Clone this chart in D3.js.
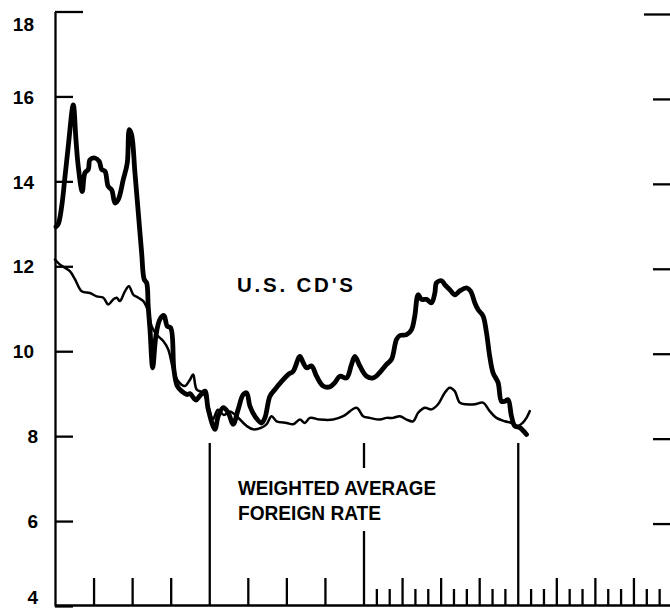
<!DOCTYPE html>
<html>
<head>
<meta charset="utf-8">
<script src="https://d3js.org/d3.v7.min.js"></script>
<style>
  body { margin: 0; background: #fff; }
  svg { display: block; }
</style>
</head>
<body>
<div id="chart"></div>
<script>
// months counted from the start of the first year on the time axis
var cdMonths = [0.08, 0.26, 0.52, 0.78, 1.03, 1.42, 1.63, 1.81, 2.12, 2.33, 2.59, 2.72, 3.11, 3.44, 3.63, 3.89,
  4.14, 4.41, 4.67, 4.92, 5.31, 5.62, 5.78, 5.96, 6.22, 6.48, 6.74, 6.94, 7.13, 7.25, 7.39, 7.60, 7.85,
  8.16, 8.48, 8.73, 9.00, 9.25, 9.51, 9.85, 10.29, 10.50, 10.96, 11.27, 11.66, 11.92, 12.44, 12.70,
  13.09, 13.48, 13.86, 14.25, 14.64, 14.91, 15.16, 15.55, 16.07, 16.33, 16.72, 17.11, 17.63, 18.14,
  18.53, 19.05, 19.31, 19.57, 19.96, 20.35, 20.86, 21.38, 21.77, 22.16, 22.68, 23.07, 23.33, 23.72,
  24.24, 24.75, 25.27, 25.79, 26.18, 26.57, 26.83, 27.35, 27.74, 27.99, 28.25, 28.51, 28.90, 29.29,
  29.55, 29.68, 30.07, 30.32, 30.71, 31.10, 31.49, 32.01, 32.32, 32.66, 32.91, 33.30, 33.57, 33.82,
  34.08, 34.47, 34.73, 34.99, 35.25, 35.51, 35.77, 36.16, 36.68];
var cdRates = [12.93, 13.0, 13.41, 14.12, 14.82, 15.80, 14.98, 14.35, 13.76, 14.20, 14.28, 14.51, 14.55, 14.47, 14.28, 14.24,
  13.88, 13.80, 13.49, 13.57, 14.04, 14.43, 15.22, 15.10, 14.20, 13.26, 12.32, 11.69, 11.61, 11.06, 10.51, 9.61, 10.36,
  10.75, 10.84, 10.59, 10.55, 9.57, 9.18, 9.06, 8.98, 9.0, 8.85, 8.95, 9.06, 8.63, 8.16, 8.47,
  8.67, 8.55, 8.28, 8.63, 8.98, 9.02, 8.71, 8.47, 8.31, 8.43, 8.94, 9.10, 9.29, 9.45,
  9.53, 9.88, 9.73, 9.61, 9.65, 9.41, 9.18, 9.16, 9.26, 9.41, 9.37, 9.69, 9.88, 9.65,
  9.41, 9.37, 9.50, 9.69, 9.81, 10.28, 10.37, 10.39, 10.51, 10.83, 11.33, 11.22, 11.22, 11.14,
  11.37, 11.61, 11.66, 11.57, 11.45, 11.33, 11.42, 11.49, 11.42, 11.14, 10.98, 10.83, 10.43, 9.88,
  9.49, 9.26, 8.82, 8.82, 8.86, 8.47, 8.24, 8.20, 8.04];

var foreignMonths = [0, 0.39, 1.17, 1.56, 2.08, 2.72, 3.24, 3.76, 4.14, 4.53, 4.80, 5.05, 5.44, 5.75, 6.09, 6.48,
  6.87, 7.25, 7.52, 7.91, 8.42, 8.81, 9.20, 9.59, 10.11, 10.50, 10.75, 11.02, 11.53, 11.92, 12.29, 12.67,
  13.14, 13.61, 14.13, 14.91, 15.42, 16.07, 16.46, 16.85, 17.24, 18.02, 18.53, 19.05, 19.44, 19.83, 20.61,
  21.64, 22.42, 23.46, 23.97, 24.49, 25.27, 25.79, 26.30, 26.83, 27.35, 27.86, 28.25, 28.77, 29.29, 29.80,
  30.32, 30.71, 31.10, 31.49, 32.01, 32.66, 33.30, 33.82, 34.34, 34.99, 35.51, 35.98, 36.37, 36.68, 36.94];
var foreignRates = [12.16, 12.04, 11.88, 11.69, 11.41, 11.37, 11.29, 11.26, 11.10, 11.22, 11.26, 11.18, 11.41, 11.53, 11.33, 11.26,
  11.18, 10.94, 10.59, 10.39, 10.24, 10.04, 9.57, 9.29, 9.18, 9.33, 9.45, 9.10, 9.02, 8.71, 8.40, 8.62,
  8.50, 8.58, 8.47, 8.24, 8.16, 8.20, 8.28, 8.47, 8.35, 8.31, 8.28, 8.39, 8.31, 8.43, 8.39,
  8.39, 8.47, 8.67, 8.47, 8.43, 8.39, 8.43, 8.43, 8.47, 8.39, 8.35, 8.55, 8.67, 8.63, 8.75,
  9.02, 9.14, 9.06, 8.79, 8.75, 8.75, 8.79, 8.59, 8.43, 8.35, 8.31, 8.24, 8.31, 8.43, 8.59];

var yTicks = [4, 6, 8, 10, 12, 14, 16, 18];
var yearStarts = [12, 24, 36];
var allMonths = d3.range(1, 48);

function drawChart() {
  var width = 670, height = 609;

  var svg = d3.select("#chart")
    .append("svg")
    .attr("width", width)
    .attr("height", height);

  // ---------------------------//
  //       AXIS  AND SCALE      //
  // ---------------------------//
  var x = d3.scaleLinear()
    .domain([0, 48])
    .range([55, 672]);

  var y = d3.scaleLinear()
    .domain([4, 18])
    .range([606, 11.5]);

  // left axis, ticks pointing into the plot
  var yAxis = svg.append("g")
    .attr("transform", "translate(55,0)")
    .call(d3.axisLeft(y).tickValues(yTicks).tickSize(-18).tickSizeOuter(0).tickPadding(20));
  yAxis.selectAll("path, line").attr("stroke", "#000").attr("stroke-width", 2.3);
  yAxis.selectAll(".tick line").filter(function (d) { return d === 18; }).attr("x2", 28);
  yAxis.selectAll("text")
    .attr("fill", "#000")
    .style("font-family", "'Liberation Sans', Arial, sans-serif")
    .style("font-weight", "bold")
    .style("font-size", "19px")
    .attr("x", function (d) { return d < 10 ? -17 : -21; })
    .attr("dy", function (d) { return d === 18 ? "1.0em" : (d === 4 ? "-0.12em" : "0.35em"); });

  // bottom time axis: quarters for the first two years, months after
  var xAxis = svg.append("g")
    .attr("transform", "translate(0,605)")
    .call(d3.axisBottom(x).tickValues(allMonths).tickSize(-16).tickSizeOuter(0).tickFormat(""));
  xAxis.selectAll("path, line").attr("stroke", "#000").attr("stroke-width", 2.3);
  xAxis.selectAll(".tick")
    .filter(function (d) { return d < 24 && d % 3 !== 0; })
    .remove();
  xAxis.selectAll(".tick line")
    .attr("y2", function (d) {
      if (yearStarts.indexOf(d) >= 0) return -162;
      if (d % 3 === 0) return -27;
      return -16;
    });

  // short ticks on the right edge
  var right = svg.append("g").attr("transform", "translate(670,3)");
  right.selectAll("line")
    .data(yTicks.slice(1))
    .enter()
    .append("line")
    .attr("x1", function (d) { return d === 18 ? -26 : -17; })
    .attr("x2", 0)
    .attr("y1", function (d) { return y(d); })
    .attr("y2", function (d) { return y(d); })
    .attr("stroke", "#000")
    .attr("stroke-width", 2.3);

  // ---------------------------//
  //       LINES                //
  // ---------------------------//
  var line = d3.line()
    .curve(d3.curveCatmullRom.alpha(0.5))
    .x(function (d) { return x(d[0]); })
    .y(function (d) { return y(d[1]); });

  svg.append("path")
    .datum(d3.zip(foreignMonths, foreignRates))
    .attr("d", line)
    .attr("fill", "none")
    .attr("stroke", "#000")
    .attr("stroke-width", 2.5)
    .attr("stroke-linejoin", "round")
    .attr("stroke-linecap", "round");

  svg.append("path")
    .datum(d3.zip(cdMonths, cdRates))
    .attr("d", line)
    .attr("fill", "none")
    .attr("stroke", "#000")
    .attr("stroke-width", 4.8)
    .attr("stroke-linejoin", "round")
    .attr("stroke-linecap", "round");

  // ---------------------------//
  //       LABELS               //
  // ---------------------------//
  var labelFont = "'Liberation Sans', Arial, sans-serif";

  svg.append("text")
    .attr("x", 237)
    .attr("y", 292)
    .attr("textLength", 116)
    .attr("lengthAdjust", "spacing")
    .style("font-family", labelFont)
    .style("font-weight", "bold")
    .style("font-size", "20.5px")
    .text("U.S. CD'S");

  // white box so the year line breaks behind the label
  svg.append("rect")
    .attr("x", 230)
    .attr("y", 468)
    .attr("width", 215)
    .attr("height", 63)
    .attr("fill", "#fff");

  svg.append("text")
    .attr("x", 238)
    .attr("y", 495)
    .attr("textLength", 198)
    .attr("lengthAdjust", "spacingAndGlyphs")
    .style("font-family", labelFont)
    .style("font-weight", "bold")
    .style("font-size", "20.5px")
    .text("WEIGHTED AVERAGE");

  svg.append("text")
    .attr("x", 238)
    .attr("y", 520)
    .attr("textLength", 143)
    .attr("lengthAdjust", "spacingAndGlyphs")
    .style("font-family", labelFont)
    .style("font-weight", "bold")
    .style("font-size", "20px")
    .text("FOREIGN RATE");
}

drawChart();
</script>
</body>
</html>
